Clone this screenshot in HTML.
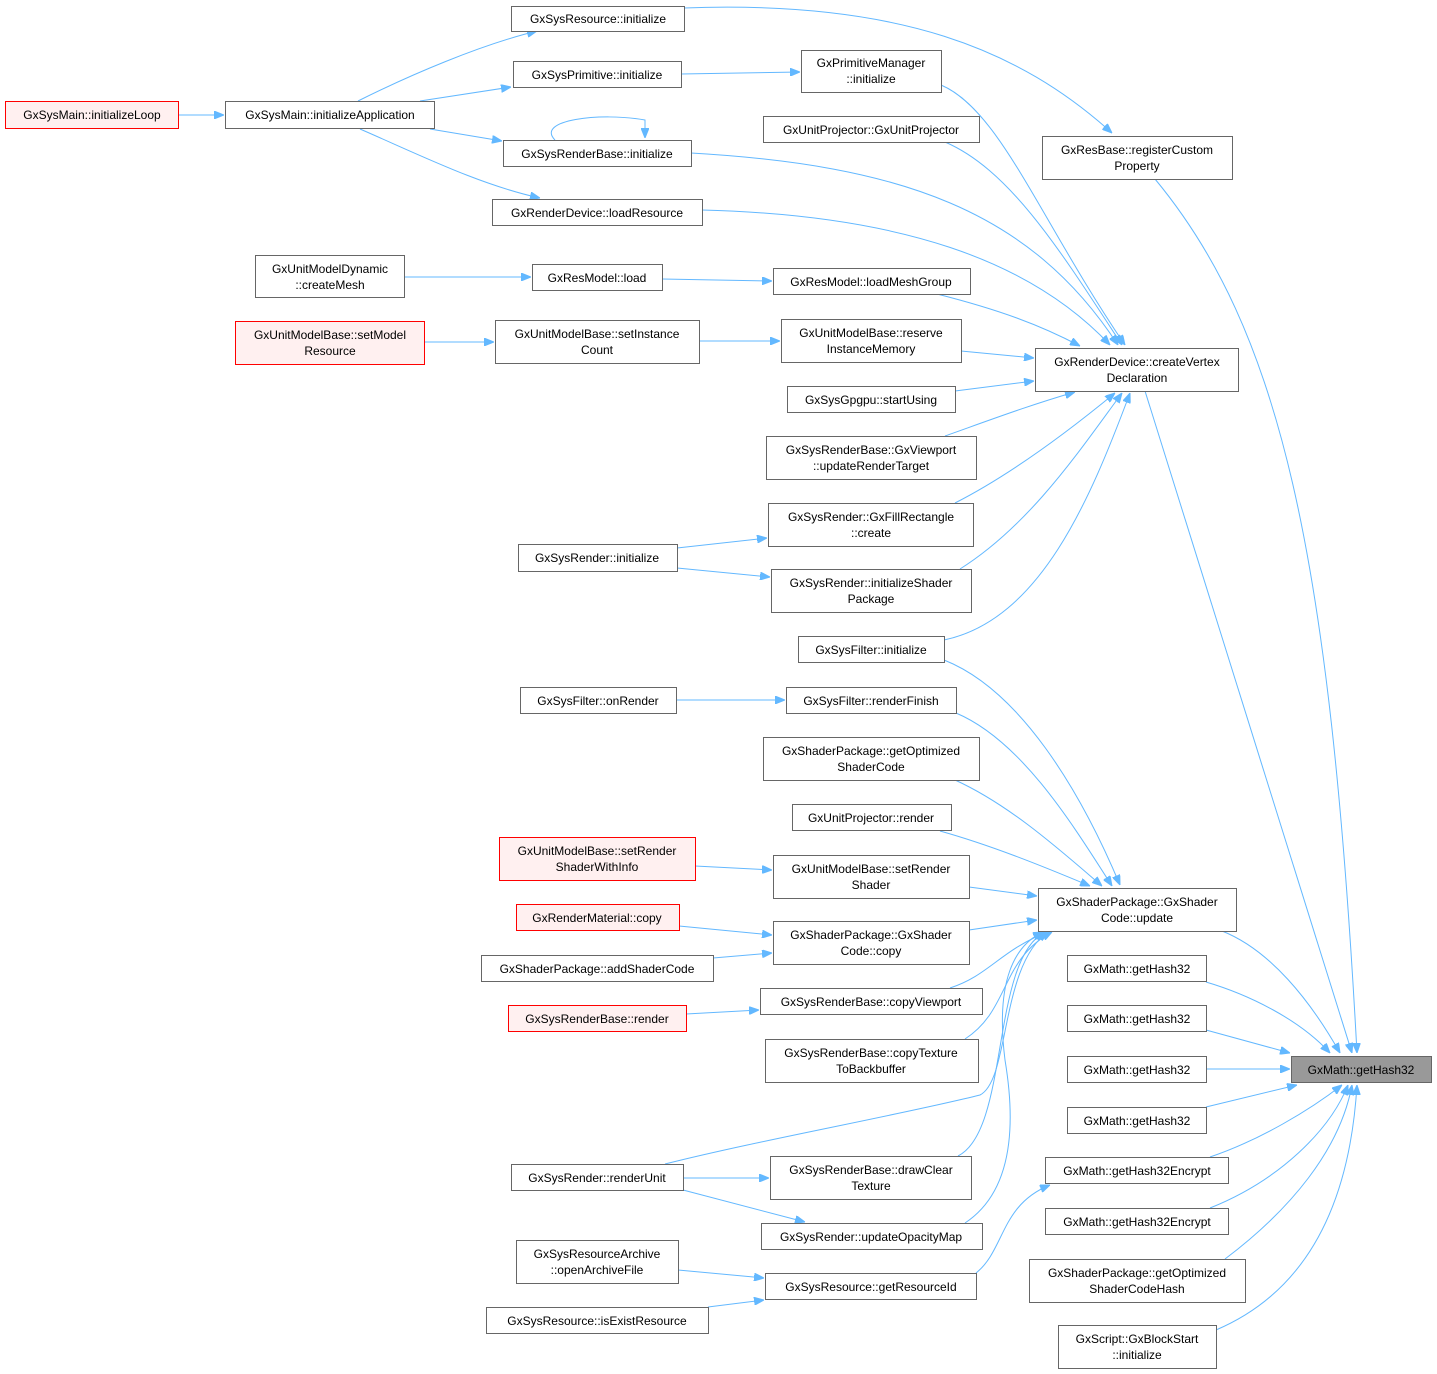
<!DOCTYPE html>
<html><head><meta charset="utf-8"><style>
html,body{margin:0;padding:0;background:#fff;}
svg{display:block;}
text{font-family:"Liberation Sans",sans-serif;font-size:12px;fill:#000;text-anchor:middle;}
.n{fill:#fff;stroke:#666;stroke-width:1;}
.r{fill:#fff0f0;stroke:#ff0000;stroke-width:1;}
.g{fill:#999;stroke:#666;stroke-width:1;}
.e{fill:none;stroke:#63b8ff;stroke-width:1;marker-end:url(#a);}
</style></head><body>
<svg width="1437" height="1374" viewBox="0 0 1437 1374" xmlns="http://www.w3.org/2000/svg">
<defs><marker id="a" markerWidth="10" markerHeight="8" refX="10" refY="4" orient="auto" markerUnits="userSpaceOnUse"><path d="M0,0 L10,4 L0,8 z" fill="#63b8ff" stroke="#63b8ff"/></marker></defs>

<!-- edges -->
<path class="e" d="M178,115 L224,115"/>
<path class="e" d="M358,101 C410,75 480,45 537,31"/>
<path class="e" d="M420,101 L511,87"/>
<path class="e" d="M430,129 L502,141"/>
<path class="e" d="M360,129 C420,155 480,185 540,198"/>
<path class="e" d="M684,8 C900,0 1020,50 1112,133"/>
<path class="e" d="M681,74 L800,72"/>
<path class="e" d="M555,140 C535,120 600,112 645,120 L645,138"/>
<path class="e" d="M941,85 C1000,110 1040,220 1125,345"/>
<path class="e" d="M945,142 C1010,170 1060,250 1122,345"/>
<path class="e" d="M691,153 C900,165 1030,210 1118,345"/>
<path class="e" d="M702,210 C900,215 1030,260 1110,345"/>
<path class="e" d="M1155,179 C1280,330 1330,550 1357,1053"/>
<path class="e" d="M404,277 L531,277"/>
<path class="e" d="M662,279 L772,281"/>
<path class="e" d="M937,294 C1000,310 1040,325 1080,346"/>
<path class="e" d="M424,342 L494,342"/>
<path class="e" d="M699,341 L780,341"/>
<path class="e" d="M961,351 L1034,358"/>
<path class="e" d="M955,391 L1034,381"/>
<path class="e" d="M945,436 C990,420 1030,405 1075,392"/>
<path class="e" d="M955,503 C1010,475 1070,430 1115,393"/>
<path class="e" d="M960,569 C1030,525 1080,450 1122,393"/>
<path class="e" d="M944,640 C1040,620 1090,500 1130,393"/>
<path class="e" d="M677,548 L767,538"/>
<path class="e" d="M677,568 L770,577"/>
<path class="e" d="M1145,391 L1352,1053"/>
<path class="e" d="M944,660 C1020,690 1080,790 1120,885"/>
<path class="e" d="M676,700 L785,700"/>
<path class="e" d="M956,713 C1020,740 1070,820 1112,886"/>
<path class="e" d="M955,780 C1010,805 1060,850 1102,886"/>
<path class="e" d="M940,831 C990,845 1040,865 1090,886"/>
<path class="e" d="M695,866 L772,870"/>
<path class="e" d="M969,887 L1037,896"/>
<path class="e" d="M679,926 L772,935"/>
<path class="e" d="M713,958 L772,953"/>
<path class="e" d="M969,930 L1037,920"/>
<path class="e" d="M950,988 C990,975 1000,950 1050,931"/>
<path class="e" d="M686,1014 L759,1010"/>
<path class="e" d="M965,1039 C1010,1010 1000,960 1052,932"/>
<path class="e" d="M665,1164 C760,1140 900,1115 980,1095 C1010,1080 1000,965 1048,932"/>
<path class="e" d="M683,1178 L769,1178"/>
<path class="e" d="M683,1190 L805,1222"/>
<path class="e" d="M958,1156 C1010,1130 990,960 1045,932"/>
<path class="e" d="M965,1223 C1015,1190 1015,1120 1005,1060 C995,980 1015,945 1043,932"/>
<path class="e" d="M1222,931 C1270,950 1310,1000 1340,1053"/>
<path class="e" d="M1206,982 C1250,995 1300,1020 1330,1053"/>
<path class="e" d="M1206,1030 L1290,1053"/>
<path class="e" d="M1206,1069 L1290,1069"/>
<path class="e" d="M1206,1107 L1297,1085"/>
<path class="e" d="M1210,1157 C1260,1140 1310,1110 1342,1085"/>
<path class="e" d="M1210,1208 C1280,1180 1330,1130 1348,1085"/>
<path class="e" d="M1225,1259 C1290,1210 1340,1150 1352,1085"/>
<path class="e" d="M1216,1330 C1310,1290 1350,1200 1357,1085"/>
<path class="e" d="M678,1270 L764,1278"/>
<path class="e" d="M708,1307 L764,1300"/>
<path class="e" d="M976,1273 C1005,1250 1000,1205 1050,1185"/>

<!-- nodes -->
<rect class="r" x="5.5" y="101.5" width="173" height="27"/><text x="92" y="119">GxSysMain::initializeLoop</text>
<rect class="n" x="225.5" y="101.5" width="209" height="27"/><text x="330" y="119">GxSysMain::initializeApplication</text>
<rect class="n" x="511.5" y="6.5" width="173" height="25"/><text x="598" y="23">GxSysResource::initialize</text>
<rect class="n" x="513.5" y="61.5" width="168" height="26"/><text x="597" y="79">GxSysPrimitive::initialize</text>
<rect class="n" x="503.5" y="140.5" width="188" height="26"/><text x="597" y="158">GxSysRenderBase::initialize</text>
<rect class="n" x="492.5" y="199.5" width="210" height="26"/><text x="597" y="217">GxRenderDevice::loadResource</text>
<rect class="n" x="801.5" y="50.5" width="140" height="42"/><text x="871" y="67">GxPrimitiveManager</text><text x="871" y="83">::initialize</text>
<rect class="n" x="763.5" y="116.5" width="216" height="26"/><text x="871" y="134">GxUnitProjector::GxUnitProjector</text>
<rect class="n" x="1042.5" y="136.5" width="190" height="43"/><text x="1137" y="154">GxResBase::registerCustom</text><text x="1137" y="170">Property</text>
<rect class="n" x="255.5" y="255.5" width="149" height="42"/><text x="330" y="273">GxUnitModelDynamic</text><text x="330" y="289">::createMesh</text>
<rect class="n" x="532.5" y="264.5" width="130" height="26"/><text x="597" y="282">GxResModel::load</text>
<rect class="n" x="773.5" y="268.5" width="197" height="26"/><text x="871" y="286">GxResModel::loadMeshGroup</text>
<rect class="r" x="235.5" y="321.5" width="189" height="43"/><text x="330" y="339">GxUnitModelBase::setModel</text><text x="330" y="355">Resource</text>
<rect class="n" x="495.5" y="320.5" width="204" height="43"/><text x="597" y="338">GxUnitModelBase::setInstance</text><text x="597" y="354">Count</text>
<rect class="n" x="781.5" y="319.5" width="180" height="43"/><text x="871" y="337">GxUnitModelBase::reserve</text><text x="871" y="353">InstanceMemory</text>
<rect class="n" x="1035.5" y="348.5" width="203" height="43"/><text x="1137" y="366">GxRenderDevice::createVertex</text><text x="1137" y="382">Declaration</text>
<rect class="n" x="787.5" y="386.5" width="168" height="26"/><text x="871" y="404">GxSysGpgpu::startUsing</text>
<rect class="n" x="766.5" y="436.5" width="210" height="43"/><text x="871" y="454">GxSysRenderBase::GxViewport</text><text x="871" y="470">::updateRenderTarget</text>
<rect class="n" x="768.5" y="503.5" width="205" height="43"/><text x="871" y="521">GxSysRender::GxFillRectangle</text><text x="871" y="537">::create</text>
<rect class="n" x="518.5" y="544.5" width="159" height="27"/><text x="597" y="562">GxSysRender::initialize</text>
<rect class="n" x="771.5" y="569.5" width="200" height="43"/><text x="871" y="587">GxSysRender::initializeShader</text><text x="871" y="603">Package</text>
<rect class="n" x="798.5" y="636.5" width="146" height="26"/><text x="871" y="654">GxSysFilter::initialize</text>
<rect class="n" x="520.5" y="687.5" width="156" height="26"/><text x="598" y="705">GxSysFilter::onRender</text>
<rect class="n" x="786.5" y="687.5" width="170" height="26"/><text x="871" y="705">GxSysFilter::renderFinish</text>
<rect class="n" x="763.5" y="737.5" width="216" height="43"/><text x="871" y="755">GxShaderPackage::getOptimized</text><text x="871" y="771">ShaderCode</text>
<rect class="n" x="792.5" y="804.5" width="159" height="26"/><text x="871" y="822">GxUnitProjector::render</text>
<rect class="r" x="499.5" y="837.5" width="196" height="43"/><text x="597" y="855">GxUnitModelBase::setRender</text><text x="597" y="871">ShaderWithInfo</text>
<rect class="n" x="773.5" y="855.5" width="196" height="43"/><text x="871" y="873">GxUnitModelBase::setRender</text><text x="871" y="889">Shader</text>
<rect class="n" x="1038.5" y="888.5" width="198" height="43"/><text x="1137" y="906">GxShaderPackage::GxShader</text><text x="1137" y="922">Code::update</text>
<rect class="r" x="516.5" y="904.5" width="163" height="26"/><text x="597" y="922">GxRenderMaterial::copy</text>
<rect class="n" x="773.5" y="921.5" width="196" height="43"/><text x="871" y="939">GxShaderPackage::GxShader</text><text x="871" y="955">Code::copy</text>
<rect class="n" x="481.5" y="955.5" width="232" height="26"/><text x="597" y="973">GxShaderPackage::addShaderCode</text>
<rect class="n" x="1067.5" y="955.5" width="139" height="26"/><text x="1137" y="973">GxMath::getHash32</text>
<rect class="n" x="760.5" y="988.5" width="222" height="26"/><text x="871" y="1006">GxSysRenderBase::copyViewport</text>
<rect class="r" x="508.5" y="1005.5" width="178" height="26"/><text x="597" y="1023">GxSysRenderBase::render</text>
<rect class="n" x="1067.5" y="1005.5" width="139" height="26"/><text x="1137" y="1023">GxMath::getHash32</text>
<rect class="n" x="765.5" y="1039.5" width="213" height="43"/><text x="871" y="1057">GxSysRenderBase::copyTexture</text><text x="871" y="1073">ToBackbuffer</text>
<rect class="g" x="1291.5" y="1056.5" width="140" height="26"/><text x="1361" y="1074">GxMath::getHash32</text>
<rect class="n" x="1067.5" y="1056.5" width="139" height="26"/><text x="1137" y="1074">GxMath::getHash32</text>
<rect class="n" x="1067.5" y="1107.5" width="139" height="26"/><text x="1137" y="1125">GxMath::getHash32</text>
<rect class="n" x="770.5" y="1156.5" width="201" height="43"/><text x="871" y="1174">GxSysRenderBase::drawClear</text><text x="871" y="1190">Texture</text>
<rect class="n" x="511.5" y="1164.5" width="172" height="26"/><text x="597" y="1182">GxSysRender::renderUnit</text>
<rect class="n" x="1045.5" y="1157.5" width="183" height="26"/><text x="1137" y="1175">GxMath::getHash32Encrypt</text>
<rect class="n" x="1045.5" y="1208.5" width="183" height="26"/><text x="1137" y="1226">GxMath::getHash32Encrypt</text>
<rect class="n" x="761.5" y="1223.5" width="221" height="26"/><text x="871" y="1241">GxSysRender::updateOpacityMap</text>
<rect class="n" x="516.5" y="1240.5" width="162" height="43"/><text x="597" y="1258">GxSysResourceArchive</text><text x="597" y="1274">::openArchiveFile</text>
<rect class="n" x="1029.5" y="1259.5" width="216" height="43"/><text x="1137" y="1277">GxShaderPackage::getOptimized</text><text x="1137" y="1293">ShaderCodeHash</text>
<rect class="n" x="765.5" y="1273.5" width="211" height="26"/><text x="871" y="1291">GxSysResource::getResourceId</text>
<rect class="n" x="486.5" y="1307.5" width="222" height="26"/><text x="597" y="1325">GxSysResource::isExistResource</text>
<rect class="n" x="1058.5" y="1325.5" width="158" height="43"/><text x="1137" y="1343">GxScript::GxBlockStart</text><text x="1137" y="1359">::initialize</text>
</svg>
</body></html>
